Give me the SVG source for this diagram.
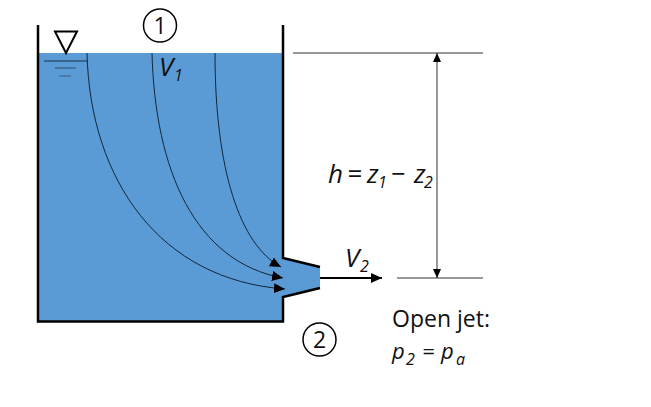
<svg xmlns="http://www.w3.org/2000/svg" width="651" height="407" viewBox="0 0 651 407">
<defs>
<marker id="ah" markerUnits="userSpaceOnUse" markerWidth="12" markerHeight="10" refX="11" refY="5" orient="auto"><path d="M0 0L11 5L0 10Z" fill="#000"/></marker>
<marker id="ahd" markerUnits="userSpaceOnUse" markerWidth="10" markerHeight="10" refX="9" refY="4" orient="auto"><path d="M0 0L9 4L0 8Z" fill="#000"/></marker>
<marker id="ahs" markerUnits="userSpaceOnUse" markerWidth="10" markerHeight="10" refX="0" refY="4" orient="auto"><path d="M0 4L9 0L9 8Z" fill="#000"/></marker>
</defs>
<style>
text{font-family:"Open Sans","Noto Sans","Liberation Sans",sans-serif;fill:#111}
.t{font-size:26px;font-style:italic}
.p{font-size:22px;font-style:italic}
.s{font-size:16px;font-style:italic}
.n{font-size:23px;text-anchor:middle}
.c{fill:none;stroke:#000;stroke-width:1.5}
.w{fill:none;stroke:#000;stroke-width:2.5}
.f{fill:none;stroke:#12263a;stroke-width:1}
.g{fill:none;stroke:#333;stroke-width:1}
</style>
<rect width="651" height="407" fill="#fff"/>
<g id="water"><path d="M38 53H283V258L320 267V288L283 297V321H38Z" fill="#5b9bd5"/></g>
<g id="tank"><path class="w" d="M38 25V321.5H283V297L320 288"/><path class="w" d="M283 25V258L320 267"/></g>
<g id="free-surface">
<path d="M55 31.5H77L66 53Z" fill="none" stroke="#000" stroke-width="2"/>
<path d="M44 61H87" stroke="#1a2f45" stroke-width="1"/>
<path d="M55 68H76" stroke="#2a4a6a" stroke-width="1"/>
<path d="M59 76H71" stroke="#3a5f85" stroke-width="1"/>
</g>
<g id="connectors">
<path class="f" marker-end="url(#ah)" d="M87 53C90 180 160 280 285 289"/>
<path class="f" marker-end="url(#ah)" d="M152 53C155 170 195 262 283 278"/>
<path class="f" marker-end="url(#ah)" d="M215 53C215 170 240 245 281 267"/>
<path fill="none" stroke="#000" stroke-width="2" marker-end="url(#ah)" d="M320 278H382"/>
<path class="g" d="M293 53H483"/>
<path class="g" d="M397 278H483"/>
<path class="g" marker-start="url(#ahs)" marker-end="url(#ahd)" d="M437 53V278"/>
</g>
<g id="node-1"><circle class="c" cx="160" cy="25.5" r="16.5"/><text class="n" x="160" y="33.5">1</text></g>
<g id="node-2"><circle class="c" cx="319.500" cy="339.500" r="16.5"/><text class="n" x="319.500" y="347.500">2</text></g>
<g id="label-v1"><text class="t" x="159" y="76">V</text><text class="s" x="174" y="81">1</text></g>
<g id="label-v2"><text class="t" x="345" y="267">V</text><text class="s" x="360" y="272">2</text></g>
<g id="label-h"><text class="t" x="328" y="183">h</text><text class="t" x="347" y="183" font-style="normal">=</text><text class="t" x="367" y="183">z</text><text class="s" x="378" y="188">1</text><text class="t" x="391" y="183">−</text><text class="t" x="414" y="183">z</text><text class="s" x="424" y="188">2</text></g>
<g id="label-jet"><text x="392" y="327" font-size="23">Open jet:</text><text class="p" x="392" y="359">p</text><text class="s" x="406" y="365" font-style="normal">2</text><text class="p" x="422" y="359">=</text><text class="p" x="441" y="359">p</text><text class="s" x="456" y="365">a</text></g>
</svg>
